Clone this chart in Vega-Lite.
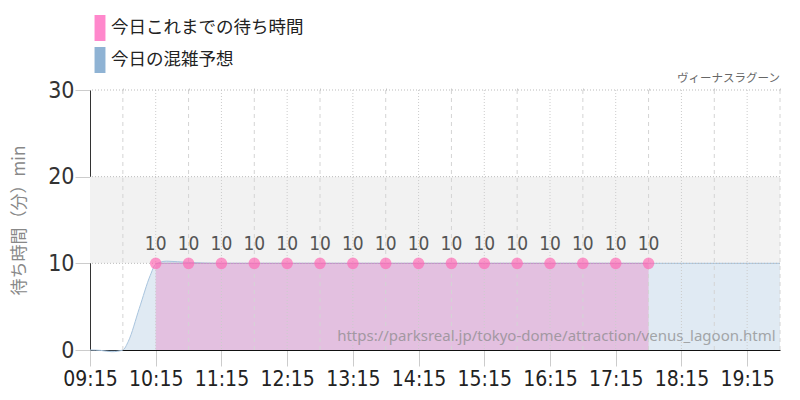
{
  "$schema": "https://vega.github.io/schema/vega-lite/v6.json",
  "width": 690,
  "height": 260,
  "autosize": "none",
  "padding": {"left": 90, "top": 90, "right": 20, "bottom": 50},
  "background": "white",
  "datasets": {
    "forecast": [
      {"time": "2024-01-01T09:15:00Z", "wait": 0, "series": "今日の混雑予想"},
      {"time": "2024-01-01T09:25:00Z", "wait": -0.05, "series": "今日の混雑予想"},
      {"time": "2024-01-01T09:35:00Z", "wait": -0.2, "series": "今日の混雑予想"},
      {"time": "2024-01-01T09:45:00Z", "wait": 0, "series": "今日の混雑予想"},
      {"time": "2024-01-01T09:50:00Z", "wait": 1, "series": "今日の混雑予想"},
      {"time": "2024-01-01T10:00:00Z", "wait": 4.8, "series": "今日の混雑予想"},
      {"time": "2024-01-01T10:10:00Z", "wait": 8.6, "series": "今日の混雑予想"},
      {"time": "2024-01-01T10:15:00Z", "wait": 9.9, "series": "今日の混雑予想"},
      {"time": "2024-01-01T10:25:00Z", "wait": 10.25, "series": "今日の混雑予想"},
      {"time": "2024-01-01T10:45:00Z", "wait": 10.1, "series": "今日の混雑予想"},
      {"time": "2024-01-01T11:15:00Z", "wait": 10, "series": "今日の混雑予想"},
      {"time": "2024-01-01T14:15:00Z", "wait": 10, "series": "今日の混雑予想"},
      {"time": "2024-01-01T17:45:00Z", "wait": 10, "series": "今日の混雑予想"},
      {"time": "2024-01-01T19:45:00Z", "wait": 10, "series": "今日の混雑予想"}
    ],
    "actual": [
      {"time": "2024-01-01T10:15:00Z", "wait": 10},
      {"time": "2024-01-01T10:45:00Z", "wait": 10},
      {"time": "2024-01-01T11:15:00Z", "wait": 10},
      {"time": "2024-01-01T11:45:00Z", "wait": 10},
      {"time": "2024-01-01T12:15:00Z", "wait": 10},
      {"time": "2024-01-01T12:45:00Z", "wait": 10},
      {"time": "2024-01-01T13:15:00Z", "wait": 10},
      {"time": "2024-01-01T13:45:00Z", "wait": 10},
      {"time": "2024-01-01T14:15:00Z", "wait": 10},
      {"time": "2024-01-01T14:45:00Z", "wait": 10},
      {"time": "2024-01-01T15:15:00Z", "wait": 10},
      {"time": "2024-01-01T15:45:00Z", "wait": 10},
      {"time": "2024-01-01T16:15:00Z", "wait": 10},
      {"time": "2024-01-01T16:45:00Z", "wait": 10},
      {"time": "2024-01-01T17:15:00Z", "wait": 10},
      {"time": "2024-01-01T17:45:00Z", "wait": 10}
    ]
  },
  "layer": [
    {
      "data": {"values": [{"low": 10, "high": 20}]},
      "mark": {"type": "rect", "color": "#f2f2f2"},
      "encoding": {
        "y": {"field": "low", "type": "quantitative", "scale": {"domain": [0, 30], "nice": false}, "axis": {"values": [0, 10, 20, 30], "grid": false, "title": "待ち時間（分）min", "titleFont": "Noto Sans CJK JP", "titleFontSize": 17, "titleFontWeight": "normal", "titleColor": "#888", "titlePadding": 19, "labelFont": "DejaVu Sans Condensed", "labelFontSize": 23, "labelColor": "#333", "labelPadding": 1, "tickSize": 15, "tickColor": "#ccc", "domainColor": "#333"}},
        "y2": {"field": "high"}
      }
    },
    {
      "data": {"name": "forecast"},
      "mark": {"type": "area", "fillOpacity": 0.28, "interpolate": "monotone", "clip": false},
      "encoding": {
        "x": {"field": "time", "type": "temporal", "scale": {"type": "utc", "domain": ["2024-01-01T09:15:00Z", "2024-01-01T19:45:00Z"]}, "axis": {"values": ["2024-01-01T09:15:00Z", "2024-01-01T10:15:00Z", "2024-01-01T11:15:00Z", "2024-01-01T12:15:00Z", "2024-01-01T13:15:00Z", "2024-01-01T14:15:00Z", "2024-01-01T15:15:00Z", "2024-01-01T16:15:00Z", "2024-01-01T17:15:00Z", "2024-01-01T18:15:00Z", "2024-01-01T19:15:00Z"], "format": "%H:%M", "title": null, "grid": false, "labelFont": "DejaVu Sans Condensed", "labelFontSize": 21, "labelColor": "#222", "labelPadding": 2, "labelFlush": false, "labelOverlap": false, "tickSize": 16, "tickColor": "#ccc", "domainColor": "#111"}},
        "y": {"field": "wait", "type": "quantitative", "stack": null},
        "color": {"field": "series", "type": "nominal", "scale": {"domain": ["今日これまでの待ち時間", "今日の混雑予想"], "range": ["#ff88cc", "#8fb3d4"]}, "legend": {"title": null, "orient": "none", "legendX": -3, "legendY": -75, "labelFont": "Noto Sans CJK JP", "labelFontSize": 17.5, "labelColor": "#222", "labelLimit": 320, "symbolType": "M-0.42,-1H0.42V1H-0.42Z", "symbolSize": 676, "symbolStrokeWidth": 0, "symbolOpacity": 1, "rowPadding": 6, "labelOffset": -2}}
      }
    },
    {
      "data": {"name": "forecast"},
      "mark": {"type": "line", "color": "#a8c4de", "strokeWidth": 1, "interpolate": "monotone"},
      "encoding": {
        "x": {"field": "time", "type": "temporal", "axis": null},
        "y": {"field": "wait", "type": "quantitative"}
      }
    },
    {
      "data": {"name": "actual"},
      "mark": {"type": "area", "color": "#e785c5", "opacity": 0.42},
      "encoding": {
        "x": {"field": "time", "type": "temporal", "axis": null},
        "y": {"field": "wait", "type": "quantitative", "stack": null}
      }
    },
    {
      "data": {"name": "actual"},
      "mark": {"type": "line", "color": "#c48cc8", "strokeWidth": 1},
      "encoding": {
        "x": {"field": "time", "type": "temporal", "axis": null},
        "y": {"field": "wait", "type": "quantitative"}
      }
    },
    {
      "data": {"values": [
        {"time": "2024-01-01T09:45:00Z"}, {"time": "2024-01-01T10:45:00Z"}, {"time": "2024-01-01T11:45:00Z"}, {"time": "2024-01-01T12:45:00Z"}, {"time": "2024-01-01T13:45:00Z"}, {"time": "2024-01-01T14:45:00Z"}, {"time": "2024-01-01T15:45:00Z"}, {"time": "2024-01-01T16:45:00Z"}, {"time": "2024-01-01T17:45:00Z"}, {"time": "2024-01-01T18:45:00Z"}, {"time": "2024-01-01T19:45:00Z"}
      ]},
      "mark": {"type": "rule", "color": "#d4d4d4", "strokeWidth": 1, "strokeDash": [4, 4]},
      "encoding": {
        "x": {"field": "time", "type": "temporal", "axis": {"values": ["2024-01-01T09:45:00Z", "2024-01-01T10:45:00Z", "2024-01-01T11:45:00Z", "2024-01-01T12:45:00Z", "2024-01-01T13:45:00Z", "2024-01-01T14:45:00Z", "2024-01-01T15:45:00Z", "2024-01-01T16:45:00Z", "2024-01-01T17:45:00Z", "2024-01-01T18:45:00Z", "2024-01-01T19:45:00Z"], "labels": false, "title": null, "grid": false, "domain": false, "tickSize": 2, "tickColor": "#ccc"}}
      }
    },
    {
      "data": {"values": [
        {"time": "2024-01-01T10:15:00Z"}, {"time": "2024-01-01T11:15:00Z"}, {"time": "2024-01-01T12:15:00Z"}, {"time": "2024-01-01T13:15:00Z"}, {"time": "2024-01-01T14:15:00Z"}, {"time": "2024-01-01T15:15:00Z"}, {"time": "2024-01-01T16:15:00Z"}, {"time": "2024-01-01T17:15:00Z"}, {"time": "2024-01-01T18:15:00Z"}, {"time": "2024-01-01T19:15:00Z"}
      ]},
      "mark": {"type": "rule", "color": "#ccc", "strokeWidth": 1, "strokeDash": [1, 2]},
      "encoding": {
        "x": {"field": "time", "type": "temporal", "axis": null}
      }
    },
    {
      "data": {"values": [{"level": 10}, {"level": 20}, {"level": 30}]},
      "mark": {"type": "rule", "color": "#bbb", "strokeWidth": 1, "strokeDash": [1, 2]},
      "encoding": {
        "y": {"field": "level", "type": "quantitative"}
      }
    },
    {
      "data": {"name": "actual"},
      "mark": {"type": "point", "filled": true, "size": 135, "color": "#ff69b4", "opacity": 0.68},
      "encoding": {
        "x": {"field": "time", "type": "temporal", "axis": null},
        "y": {"field": "wait", "type": "quantitative"}
      }
    },
    {
      "data": {"name": "actual"},
      "mark": {"type": "text", "font": "DejaVu Sans Condensed", "fontSize": 19, "color": "#555", "dy": -19},
      "encoding": {
        "x": {"field": "time", "type": "temporal", "axis": null},
        "y": {"field": "wait", "type": "quantitative"},
        "text": {"field": "wait", "type": "quantitative"}
      }
    },
    {
      "data": {"values": [{"time": "2024-01-01T19:41:00Z", "wait": 1.6, "url": "https://parksreal.jp/tokyo-dome/attraction/venus_lagoon.html"}]},
      "mark": {"type": "text", "font": "Noto Sans", "fontSize": 15, "color": "#888", "opacity": 0.7, "align": "right"},
      "encoding": {
        "x": {"field": "time", "type": "temporal", "axis": null},
        "y": {"field": "wait", "type": "quantitative"},
        "text": {"field": "url", "type": "nominal"}
      }
    },
    {
      "data": {"values": [{"time": "2024-01-01T19:45:00Z", "wait": 30, "name": "ヴィーナスラグーン"}]},
      "mark": {"type": "text", "font": "Noto Sans CJK JP", "fontSize": 11.5, "color": "#666", "align": "right", "dy": -11},
      "encoding": {
        "x": {"field": "time", "type": "temporal", "axis": null},
        "y": {"field": "wait", "type": "quantitative"},
        "text": {"field": "name", "type": "nominal"}
      }
    }
  ],
  "resolve": {"axis": {"x": "independent"}},
  "config": {"view": {"stroke": null}}
}
